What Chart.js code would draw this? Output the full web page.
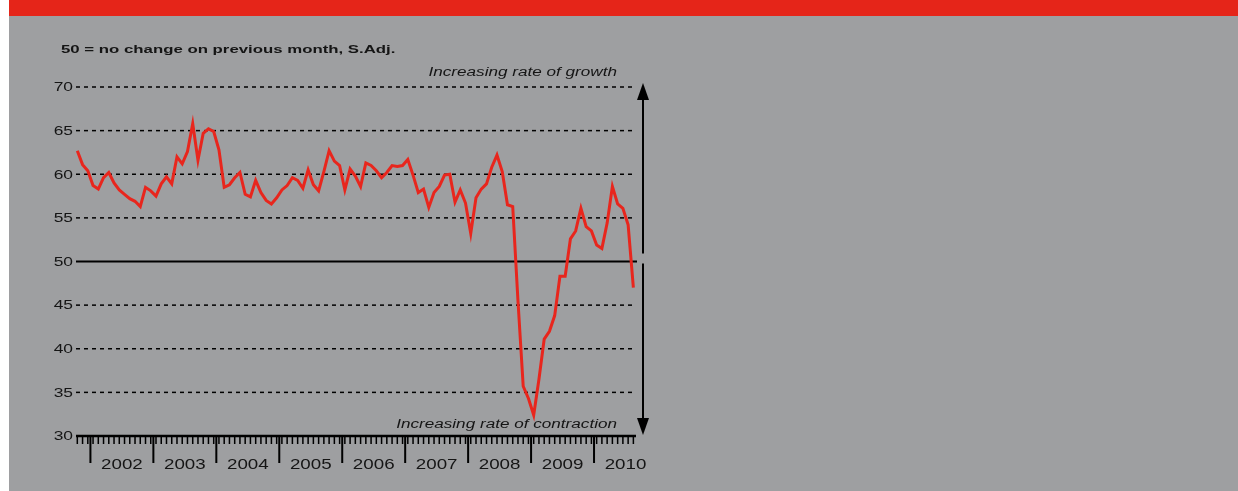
<!DOCTYPE html>
<html lang="en">
<head>
  <meta charset="UTF-8">
  <title>PMI - 50 = no change on previous month</title>
  <script src="https://cdn.jsdelivr.net/npm/chart.js@4"></script>
  <style>
    html, body { margin: 0; padding: 0; background: #fff; }
    canvas { display: block; }
  </style>
</head>
<body>
  <canvas id="pmiChart" width="1238" height="491"></canvas>
  <script>
    // index values, one small array per year (2001 starts in October, 2010 ends in August)
    const index2001 = [62.7, 61.1, 60.4];
    const index2002 = [58.7, 58.3, 59.6, 60.2, 59.0, 58.2, 57.7, 57.2, 56.9, 56.3, 58.5, 58.1];
    const index2003 = [57.5, 58.9, 59.7, 58.9, 62.0, 61.2, 62.6, 65.8, 61.6, 64.7, 65.2, 64.9];
    const index2004 = [62.8, 58.5, 58.8, 59.6, 60.2, 57.7, 57.4, 59.3, 57.9, 57.0, 56.6, 57.3];
    const index2005 = [58.2, 58.7, 59.6, 59.3, 58.4, 60.5, 58.8, 58.1, 60.3, 62.7, 61.5, 61.0];
    const index2006 = [58.2, 60.6, 59.8, 58.6, 61.3, 61.0, 60.4, 59.6, 60.2, 61.0, 60.9, 61.0];
    const index2007 = [61.7, 59.9, 57.9, 58.3, 56.2, 57.9, 58.6, 59.9, 60.0, 56.8, 58.2, 56.7];
    const index2008 = [53.2, 57.3, 58.3, 58.9, 60.8, 62.2, 60.3, 56.5, 56.3, 45.5, 35.7, 34.3];
    const index2009 = [32.4, 36.5, 41.1, 42.0, 43.8, 48.3, 48.3, 52.6, 53.5, 56.1, 54.0, 53.5];
    const index2010 = [51.9, 51.5, 54.4, 58.6, 56.6, 56.1, 54.2, 47.0];

    const yearLabels = ['2002', '2003', '2004', '2005', '2006', '2007', '2008', '2009', '2010'];
    const yTicks = [30, 35, 40, 45, 50, 55, 60, 65, 70];
    const monthNames = ['Jan', 'Feb', 'Mar', 'Apr', 'May', 'Jun', 'Jul', 'Aug', 'Sep', 'Oct', 'Nov', 'Dec'];

    const titleText = '50 = no change on previous month, S.Adj.';
    const growthText = 'Increasing rate of growth';
    const contractionText = 'Increasing rate of contraction';

    // series en labels per maand
    const values = [].concat(index2001, index2002, index2003, index2004, index2005,
                             index2006, index2007, index2008, index2009, index2010);
    const categories = values.map((v, i) => {
      const m = (i + 9) % 12;
      const y = 2001 + Math.floor((i + 9) / 12);
      return monthNames[m] + ' ' + y;
    });
    const firstJan = 3; // position of Jan 2002 in the series

    const FONT = '"Liberation Sans", Arial, sans-serif';

    function stretchText(ctx, text, x, y, sx, align) {
      ctx.save();
      ctx.translate(x, y);
      ctx.scale(sx, 1);
      ctx.textAlign = align;
      ctx.fillText(text, 0, 0);
      ctx.restore();
    }

    const decor = {
      id: 'decor',
      beforeDraw(chart) {
        const ctx = chart.ctx;
        const a = chart.chartArea;
        const xs = chart.scales.x, ys = chart.scales.y;
        ctx.save();
        // panel
        ctx.fillStyle = '#ffffff';
        ctx.fillRect(0, 0, chart.width, chart.height);
        ctx.fillStyle = '#9e9fa1';
        ctx.fillRect(9, 16, chart.width - 9, chart.height - 16);
        ctx.fillStyle = '#e52519';
        ctx.fillRect(9, 0, chart.width - 9, 16);

        // grid lines
        ctx.strokeStyle = '#000';
        yTicks.forEach(v => {
          if (v === 30) return;
          const py = ys.getPixelForValue(v);
          ctx.beginPath();
          if (v === 50) {
            ctx.setLineDash([]);
            ctx.lineWidth = 2;
            ctx.moveTo(a.left, py);
            ctx.lineTo(a.right + 1, py);
          } else {
            ctx.setLineDash([4, 4]);
            ctx.lineWidth = 1.5;
            ctx.moveTo(a.left, py);
            ctx.lineTo(a.right - 3, py);
          }
          ctx.stroke();
        });
        ctx.setLineDash([]);

        // x axis with month and year ticks
        ctx.lineWidth = 2.5;
        ctx.beginPath();
        ctx.moveTo(a.left, a.bottom);
        ctx.lineTo(a.right, a.bottom);
        ctx.stroke();
        ctx.lineWidth = 1.5;
        ctx.beginPath();
        categories.forEach((c, i) => {
          const px = xs.getPixelForValue(i);
          ctx.moveTo(px, a.bottom);
          ctx.lineTo(px, a.bottom + 8);
        });
        ctx.stroke();
        ctx.lineWidth = 2;
        ctx.beginPath();
        yearLabels.forEach((yr, k) => {
          const px = xs.getPixelForValue(firstJan + 12 * k - 0.5);
          ctx.moveTo(px, a.bottom);
          ctx.lineTo(px, a.bottom + 27);
        });
        ctx.stroke();

        // text
        ctx.fillStyle = '#151515';
        ctx.textBaseline = 'alphabetic';
        ctx.font = 'bold 11.5px ' + FONT;
        stretchText(ctx, titleText, 61, 53, 1.46, 'left');

        ctx.textBaseline = 'middle';
        ctx.font = '12px ' + FONT;
        yTicks.forEach(v => {
          stretchText(ctx, String(v), a.left - 3, ys.getPixelForValue(v) + 1, 1.45, 'right');
        });

        ctx.textBaseline = 'alphabetic';
        ctx.font = '15px ' + FONT;
        yearLabels.forEach((yr, k) => {
          const px = xs.getPixelForValue(firstJan + 12 * k + 5.5);
          stretchText(ctx, yr, px, a.bottom + 33, 1.25, 'center');
        });

        ctx.font = 'italic 12.5px ' + FONT;
        stretchText(ctx, growthText, a.right - 19, 76, 1.37, 'right');
        stretchText(ctx, contractionText, a.right - 19, 428, 1.37, 'right');

        // arrows
        const ax = a.right + 7;
        const p70 = ys.getPixelForValue(70), p50 = ys.getPixelForValue(50), p30 = ys.getPixelForValue(30);
        ctx.fillStyle = '#000';
        ctx.lineWidth = 2;
        ctx.beginPath();
        ctx.moveTo(ax, p50 - 8);
        ctx.lineTo(ax, p70 + 12);
        ctx.moveTo(ax, p50 + 2);
        ctx.lineTo(ax, p30 - 17);
        ctx.stroke();
        ctx.beginPath();
        ctx.moveTo(ax, p70 - 4);
        ctx.lineTo(ax - 6, p70 + 13);
        ctx.lineTo(ax + 6, p70 + 13);
        ctx.closePath();
        ctx.fill();
        ctx.beginPath();
        ctx.moveTo(ax, p30 - 1);
        ctx.lineTo(ax - 6, p30 - 18);
        ctx.lineTo(ax + 6, p30 - 18);
        ctx.closePath();
        ctx.fill();
        ctx.restore();
      }
    };

    new Chart(document.getElementById('pmiChart').getContext('2d'), {
      type: 'line',
      data: {
        labels: categories,
        datasets: [{
          label: 'Index',
          data: values.map((v, i) => ({ x: i, y: v })),
          borderColor: '#e8261d',
          borderWidth: 3,
          pointRadius: 0,
          tension: 0,
          fill: false
        }]
      },
      options: {
        responsive: false,
        animation: false,
        devicePixelRatio: 1,
        layout: { padding: { left: 76, right: 602, top: 87, bottom: 55 } },
        plugins: { legend: { display: false }, tooltip: { enabled: false } },
        scales: {
          x: { type: 'linear', display: false, min: -0.25, max: 106.5 },
          y: { display: false, min: 30, max: 70 }
        }
      },
      plugins: [decor]
    });
  </script>
</body>
</html>
